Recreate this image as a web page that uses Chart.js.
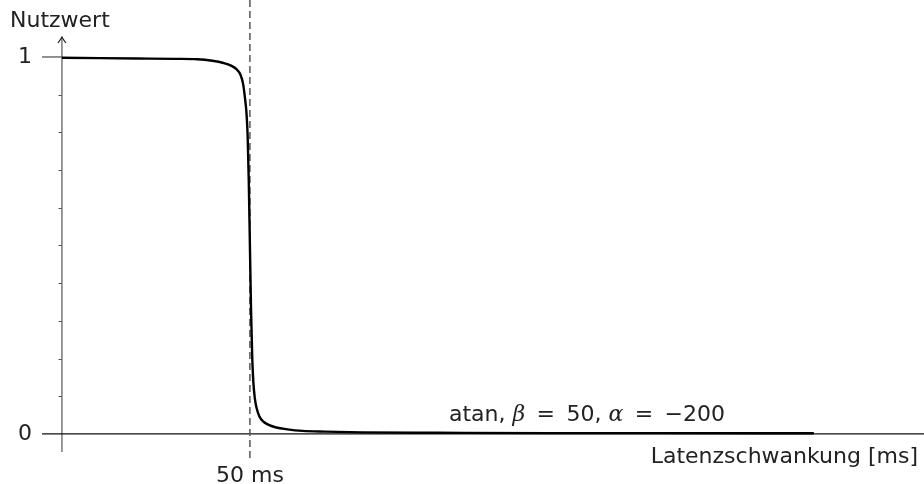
<!DOCTYPE html>
<html>
<head>
<meta charset="utf-8">
<script src="https://cdn.jsdelivr.net/npm/chart.js@4.4.0/dist/chart.umd.min.js"></script>
<style>
  html, body { margin: 0; padding: 0; background: #fff; }
  #wrap { width: 924px; height: 484px; }
</style>
</head>
<body>
<div id="wrap"><canvas id="myChart" width="924" height="484"></canvas></div>
<script>
// Latenzschwankung in ms
const latenz = [0, 10, 20, 30, 36, 40, 43, 45, 46.5, 47.5, 48.2, 48.7, 49.1, 49.4, 49.7, 50,
  50.3, 50.6, 50.9, 51.3, 51.8, 52.5, 53.5, 55, 57, 60, 64, 70, 80, 100, 130, 160, 200];
// Nutzwert
const nutzwert = [0.998, 0.997, 0.996, 0.995, 0.994, 0.990, 0.984, 0.977, 0.967, 0.953, 0.928,
  0.890, 0.850, 0.790, 0.670, 0.5, 0.33, 0.21, 0.14, 0.095, 0.068, 0.047, 0.033, 0.024, 0.017,
  0.012, 0.008, 0.006, 0.004, 0.003, 0.002, 0.002, 0.0016];
const xTicks = [50];
const xTickLabels = ['50 ms'];
const yTicks = [0, 1];
const yMinor = [0.1, 0.2, 0.3, 0.4, 0.5, 0.6, 0.7, 0.8, 0.9];
const markerX = 50;

const FONT = '"DejaVu Sans", sans-serif';

const axesPlugin = {
  id: 'axes',
  beforeDatasetsDraw(chart) {
    const ctx = chart.ctx;
    const xs = chart.scales.x, ys = chart.scales.y;
    const a = chart.chartArea;
    const x0 = xs.getPixelForValue(0);
    const y0 = ys.getPixelForValue(0);
    const y1 = ys.getPixelForValue(1);
    ctx.save();
    // y axis
    ctx.strokeStyle = '#777';
    ctx.lineWidth = 1.5;
    ctx.beginPath();
    ctx.moveTo(x0, a.bottom);
    ctx.lineTo(x0, a.top);
    ctx.stroke();
    // arrow head
    ctx.lineWidth = 1.2;
    ctx.strokeStyle = '#222';
    ctx.beginPath();
    ctx.moveTo(x0 - 4, a.top + 6);
    ctx.quadraticCurveTo(x0 - 1, a.top + 2, x0, a.top);
    ctx.quadraticCurveTo(x0 + 1, a.top + 2, x0 + 4, a.top + 6);
    ctx.stroke();
    // minor ticks
    ctx.strokeStyle = '#555';
    ctx.lineWidth = 1;
    yMinor.forEach(v => {
      const y = Math.round(ys.getPixelForValue(v)) + 0.5;
      ctx.beginPath();
      ctx.moveTo(x0 - 3.5, y);
      ctx.lineTo(x0, y);
      ctx.stroke();
    });
    // major tick at 1
    ctx.strokeStyle = '#555';
    ctx.lineWidth = 1.3;
    ctx.beginPath();
    ctx.moveTo(a.left, y1);
    ctx.lineTo(x0, y1);
    ctx.stroke();
    // x axis
    ctx.strokeStyle = '#111';
    ctx.lineWidth = 1.3;
    ctx.beginPath();
    ctx.moveTo(a.left, y0);
    ctx.lineTo(a.right, y0);
    ctx.stroke();
    // dashed marker
    const xm = xs.getPixelForValue(markerX);
    ctx.strokeStyle = '#555';
    ctx.lineWidth = 1.5;
    ctx.setLineDash([7, 4]);
    ctx.beginPath();
    ctx.moveTo(xm, 0);
    ctx.lineTo(xm, a.bottom + 8);
    ctx.stroke();
    ctx.setLineDash([]);
    ctx.restore();
  },
  afterDraw(chart) {
    const ctx = chart.ctx;
    ctx.save();
    ctx.fillStyle = '#222';
    ctx.font = '22px ' + FONT;
    ctx.textBaseline = 'alphabetic';
    ctx.textAlign = 'left';
    ctx.fillText('Nutzwert', 10, 27);
    ctx.textAlign = 'right';
    ctx.fillText('Latenzschwankung [ms]', 918, 463);
    // curve label
    const parts = [
      ['atan, ', '22px ' + FONT],
      ['\u03B2', 'italic 22px "DejaVu Serif", serif'],
      [' \u2009=\u2009 50, ', '22px ' + FONT],
      ['\u03B1', 'italic 22px "DejaVu Serif", serif'],
      [' \u2009=\u2009 \u2212200', '22px ' + FONT]
    ];
    ctx.textAlign = 'left';
    let x = 449;
    parts.forEach(p => {
      ctx.font = p[1];
      ctx.fillText(p[0], x, 421);
      x += ctx.measureText(p[0]).width;
    });
    ctx.restore();
  }
};

new Chart(document.getElementById('myChart'), {
  type: 'line',
  data: {
    datasets: [{
      data: latenz.map((v, i) => ({ x: v, y: nutzwert[i] })),
      borderColor: '#000',
      borderWidth: 2.4,
      pointRadius: 0,
      fill: false,
      cubicInterpolationMode: 'monotone'
    }]
  },
  options: {
    responsive: false,
    animation: false,
    layout: { padding: { top: 37, left: 0, right: 0, bottom: 0 } },
    plugins: { legend: { display: false }, tooltip: { enabled: false } },
    scales: {
      x: {
        type: 'linear',
        min: -5.3,
        max: 229.3,
        grid: { display: false },
        border: { display: false },
        afterBuildTicks: s => { s.ticks = xTicks.map(v => ({ value: v })); },
        afterFit: s => { s.height = 32; },
        ticks: {
          callback: (v) => xTickLabels[xTicks.indexOf(v)],
          padding: 3,
          maxRotation: 0,
          autoSkip: false,
          color: '#222',
          font: { family: FONT, size: 22 }
        }
      },
      y: {
        type: 'linear',
        min: -0.048,
        max: 1.053,
        grid: { display: false, drawTicks: false },
        border: { display: false },
        afterBuildTicks: s => { s.ticks = yTicks.map(v => ({ value: v })); },
        afterFit: s => { s.width = 42; },
        ticks: {
          padding: 10,
          color: '#222',
          font: { family: FONT, size: 22 }
        }
      }
    }
  },
  plugins: [axesPlugin]
});
</script>
</body>
</html>
